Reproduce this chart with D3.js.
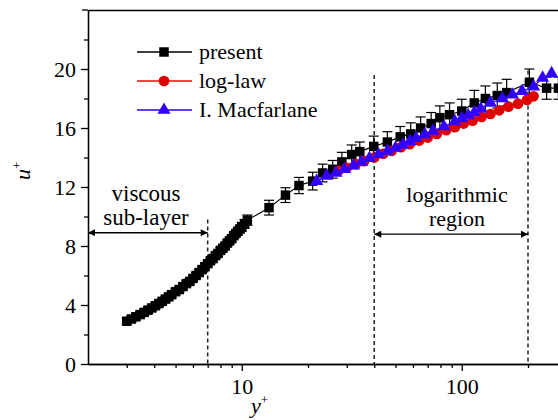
<!DOCTYPE html>
<html>
<head>
<meta charset="utf-8">
<script src="https://cdn.jsdelivr.net/npm/d3@7"></script>
<style>
  body { margin: 0; background: #fff; }
  svg { display: block; font-family: "Liberation Serif", "Times New Roman", serif; }
</style>
</head>
<body>
<div id="chart"></div>
<script>
// present (LES) - dense near-wall points
const presentYp = [3.0, 3.15, 3.3, 3.45, 3.6, 3.75, 3.9, 4.05, 4.2, 4.35, 4.5, 4.65, 4.8, 5.0, 5.2, 5.4, 5.6, 5.8, 6.0, 6.2,
  6.4, 6.6, 6.8, 7.0, 7.2, 7.4, 7.6, 7.8, 8.0, 8.2, 8.4, 8.6, 8.8, 9.0, 9.2, 9.4, 9.6, 9.8, 10.0, 10.3, 10.6,
  13.3, 15.8, 18.2, 21.0, 23.3, 25.9, 28.5, 31.6, 34.4, 39.8, 45.9, 52.5, 58.6, 65, 72.6, 79.5, 88, 100,
  114, 128, 145, 160, 203, 243, 275];
const presentUp = [2.9, 3.05, 3.2, 3.35, 3.5, 3.65, 3.8, 3.95, 4.1, 4.25, 4.4, 4.55, 4.7, 4.9, 5.05, 5.25, 5.45, 5.6, 5.8, 6.0,
  6.2, 6.4, 6.6, 6.8, 7.0, 7.15, 7.35, 7.5, 7.7, 7.85, 8.0, 8.2, 8.35, 8.5, 8.7, 8.85, 9.0, 9.15, 9.3, 9.5, 9.75,
  10.6, 11.45, 12.1, 12.4, 12.95, 13.2, 13.7, 14.2, 14.4, 14.75, 15.05, 15.4, 15.6, 16.0, 16.3, 16.7, 16.9, 17.15,
  17.7, 18.0, 18.2, 18.4, 19.1, 18.7, 18.7];
const presentErr = [0.2, 0.2, 0.2, 0.2, 0.2, 0.2, 0.2, 0.2, 0.2, 0.2, 0.2, 0.2, 0.2, 0.2, 0.2, 0.2, 0.2, 0.2, 0.2, 0.2,
  0.2, 0.2, 0.2, 0.2, 0.2, 0.2, 0.2, 0.2, 0.2, 0.2, 0.2, 0.2, 0.2, 0.2, 0.2, 0.2, 0.25, 0.25, 0.3, 0.3, 0.35,
  0.5, 0.5, 0.55, 0.6, 0.6, 0.6, 0.65, 0.65, 0.65, 0.7, 0.7, 0.7, 0.75, 0.75, 0.75, 0.8, 0.8, 0.8,
  0.85, 0.85, 0.85, 0.9, 0.9, 0.75, 0.75];

// log-law
const logLawYp = [27.5, 30, 33, 36, 40, 44, 48, 53, 58, 64, 70, 77, 85, 93, 102, 112, 123, 135, 148, 163, 180, 198, 212];
const logLawUp = [13.1, 13.3, 13.55, 13.75, 14.0, 14.25, 14.45, 14.7, 14.9, 15.15, 15.35, 15.6, 15.85, 16.05, 16.3,
  16.5, 16.75, 16.95, 17.2, 17.45, 17.65, 17.9, 18.15];

// I. Macfarlane
const macYp = [21.9, 24.3, 26.8, 29.3, 32.2, 35, 38, 41.8, 46, 50, 54, 58, 62, 68, 74, 83, 93, 100, 107, 114, 122,
  135, 153, 170, 188, 212, 233, 256];
const macUp = [12.4, 12.75, 12.95, 13.2, 13.45, 13.7, 13.95, 14.2, 14.45, 14.65, 14.85, 15.1, 15.3, 15.55, 15.8,
  16.1, 16.45, 16.65, 16.85, 17.05, 17.3, 17.7, 18.0, 18.25, 18.5, 18.8, 19.4, 19.7];

const yMajorTicks = [0, 4, 8, 12, 16, 20];
const yMinorTicks = [2, 6, 10, 14, 18, 22];
const xMajorTicks = [10, 100];
const xMinorTicks = [3, 4, 5, 6, 7, 8, 9, 20, 30, 40, 50, 60, 70, 80, 90, 200, 300];

const legendNames = ["present", "log-law", "I. Macfarlane"];
const regionBounds = [2, 7, 40, 200];

const width = 558;
const height = 420;

const svg = d3.select("#chart")
  .append("svg")
  .attr("width", width)
  .attr("height", height)
  .attr("viewBox", `0 0 ${width} ${height}`);

const x = d3.scaleLog().domain([2, 300]).range([88, 88 + 220 * Math.log10(150)]);
const y = d3.scaleLinear().domain([0, 24]).range([364, 10]);

const present = presentYp.map((v, i) => ({yp: v, up: presentUp[i], e: presentErr[i]}));
const logLaw = logLawYp.map((v, i) => ({yp: v, up: logLawUp[i]}));
const mac = macYp.map((v, i) => ({yp: v, up: macUp[i]}));

const line = d3.line().x(d => x(d.yp)).y(d => y(d.up));

// arrow marker
svg.append("defs").append("marker")
  .attr("id", "arr")
  .attr("viewBox", "0 0 10 10")
  .attr("refX", 10).attr("refY", 5)
  .attr("markerWidth", 10).attr("markerHeight", 7)
  .attr("markerUnits", "userSpaceOnUse")
  .attr("orient", "auto-start-reverse")
  .append("path").attr("d", "M0,0 L10,5 L0,10 z").attr("fill", "#000");

// dashed region lines
const dashTop = {7: 9.8, 40: 19.6, 200: 19.9};
[7, 40, 200].forEach(b => {
  svg.append("line")
    .attr("x1", x(b)).attr("x2", x(b))
    .attr("y1", y(dashTop[b])).attr("y2", y(0))
    .attr("stroke", "#222").attr("stroke-width", 1.5)
    .attr("stroke-dasharray", "4,3");
});

// region arrows
svg.append("line")
  .attr("x1", x(regionBounds[0])).attr("x2", x(regionBounds[1]))
  .attr("y1", y(8.9)).attr("y2", y(8.9))
  .attr("stroke", "#000").attr("stroke-width", 1.3)
  .attr("marker-start", "url(#arr)").attr("marker-end", "url(#arr)");
svg.append("line")
  .attr("x1", x(regionBounds[2])).attr("x2", x(regionBounds[3]))
  .attr("y1", y(8.8)).attr("y2", y(8.8))
  .attr("stroke", "#000").attr("stroke-width", 1.3)
  .attr("marker-start", "url(#arr)").attr("marker-end", "url(#arr)");

svg.append("text").attr("x", 146).attr("y", 201).attr("text-anchor", "middle")
  .style("font-size", "23px").text("viscous");
svg.append("text").attr("x", 146).attr("y", 225).attr("text-anchor", "middle")
  .style("font-size", "23px").text("sub-layer");
svg.append("text").attr("x", 457).attr("y", 202).attr("text-anchor", "middle")
  .style("font-size", "22px").text("logarithmic");
svg.append("text").attr("x", 457).attr("y", 226).attr("text-anchor", "middle")
  .style("font-size", "22px").text("region");

// present: line, error bars, squares
svg.append("path").datum(present)
  .attr("d", line).attr("fill", "none").attr("stroke", "#000").attr("stroke-width", 1.2);

const eb = svg.append("g").attr("stroke", "#000").attr("stroke-width", 1.2);
eb.selectAll("line.v").data(present).join("line").attr("class", "v")
  .attr("x1", d => x(d.yp)).attr("x2", d => x(d.yp))
  .attr("y1", d => y(d.up - d.e)).attr("y2", d => y(d.up + d.e));
eb.selectAll("line.t").data(present).join("line").attr("class", "t")
  .attr("x1", d => x(d.yp) - 5).attr("x2", d => x(d.yp) + 5)
  .attr("y1", d => y(d.up + d.e)).attr("y2", d => y(d.up + d.e));
eb.selectAll("line.b").data(present).join("line").attr("class", "b")
  .attr("x1", d => x(d.yp) - 5).attr("x2", d => x(d.yp) + 5)
  .attr("y1", d => y(d.up - d.e)).attr("y2", d => y(d.up - d.e));

svg.selectAll("path.sq").data(present).join("path").attr("class", "sq")
  .attr("d", d3.symbol(d3.symbolSquare, 90))
  .attr("transform", d => `translate(${x(d.yp)},${y(d.up)})`)
  .attr("fill", "#000");

// log-law
svg.append("path").datum(logLaw)
  .attr("d", line).attr("fill", "none").attr("stroke", "#ff0000").attr("stroke-width", 1.2);
svg.selectAll("path.ci").data(logLaw).join("path").attr("class", "ci")
  .attr("d", d3.symbol(d3.symbolCircle, 90))
  .attr("transform", d => `translate(${x(d.yp)},${y(d.up)})`)
  .attr("fill", "#e00000");

// Macfarlane
svg.append("path").datum(mac)
  .attr("d", line).attr("fill", "none").attr("stroke", "#2200ff").attr("stroke-width", 1.2);
svg.selectAll("path.tr").data(mac).join("path").attr("class", "tr")
  .attr("d", d3.symbol(d3.symbolTriangle, 75))
  .attr("transform", d => `translate(${x(d.yp)},${y(d.up)})`)
  .attr("fill", "#3300ff");

// axes
svg.append("g")
  .attr("transform", `translate(88,0)`)
  .call(d3.axisLeft(y).tickValues(yMajorTicks).tickSize(7).tickPadding(5).tickSizeOuter(0));
svg.append("g")
  .attr("transform", `translate(88,0)`)
  .call(d3.axisLeft(y).tickValues(yMinorTicks).tickSize(4).tickFormat("").tickSizeOuter(0));

svg.append("g")
  .attr("transform", `translate(0,364)`)
  .call(d3.axisBottom(x).tickValues(xMajorTicks).tickFormat(d3.format("d")).tickSize(7).tickPadding(7).tickSizeOuter(0));
svg.append("g")
  .attr("transform", `translate(0,364)`)
  .call(d3.axisBottom(x).tickValues(xMinorTicks).tickFormat("").tickSize(4).tickSizeOuter(0));

// top frame (axis without ticks)
svg.append("g")
  .attr("transform", `translate(0,10)`)
  .call(d3.axisTop(x).tickValues([]).tickSizeOuter(0));

svg.selectAll(".domain, .tick line").attr("stroke", "#000").attr("stroke-width", 1.3);
svg.selectAll(".tick text")
  .style("font-family", "'Liberation Serif', 'Times New Roman', serif")
  .style("font-size", "22px").attr("fill", "#000");

svg.append("line")
  .attr("x1", 82).attr("x2", 88)
  .attr("y1", 10).attr("y2", 10)
  .attr("stroke", "#000").attr("stroke-width", 1.3);

// axis labels
svg.append("text")
  .attr("x", 251).attr("y", 413)
  .style("font-size", "22px").style("font-style", "italic")
  .text("y")
  .append("tspan").attr("dy", -9).style("font-size", "13px").style("font-style", "normal").text("+");

svg.append("text")
  .attr("transform", "translate(30,180) rotate(-90)")
  .style("font-size", "22px").style("font-style", "italic")
  .text("u")
  .append("tspan").attr("dy", -9).style("font-size", "13px").style("font-style", "normal").text("+");

// legend
const legendColors = ["#000", "#ff0000", "#2200ff"];
const legendFills = ["#000", "#e00000", "#3300ff"];
const legendSymbols = [d3.symbolSquare, d3.symbolCircle, d3.symbolTriangle];
const legend = svg.append("g");
legendNames.forEach((name, i) => {
  const ly = 52 + i * 29;
  legend.append("line")
    .attr("x1", 137).attr("x2", 192).attr("y1", ly).attr("y2", ly)
    .attr("stroke", legendColors[i]).attr("stroke-width", 1.3);
  legend.append("path")
    .attr("d", d3.symbol(legendSymbols[i], i === 2 ? 75 : 90))
    .attr("transform", `translate(164,${ly})`)
    .attr("fill", legendFills[i]);
  legend.append("text")
    .attr("x", 199).attr("y", ly + 7)
    .style("font-size", "22px")
    .text(name);
});
</script>
</body>
</html>
